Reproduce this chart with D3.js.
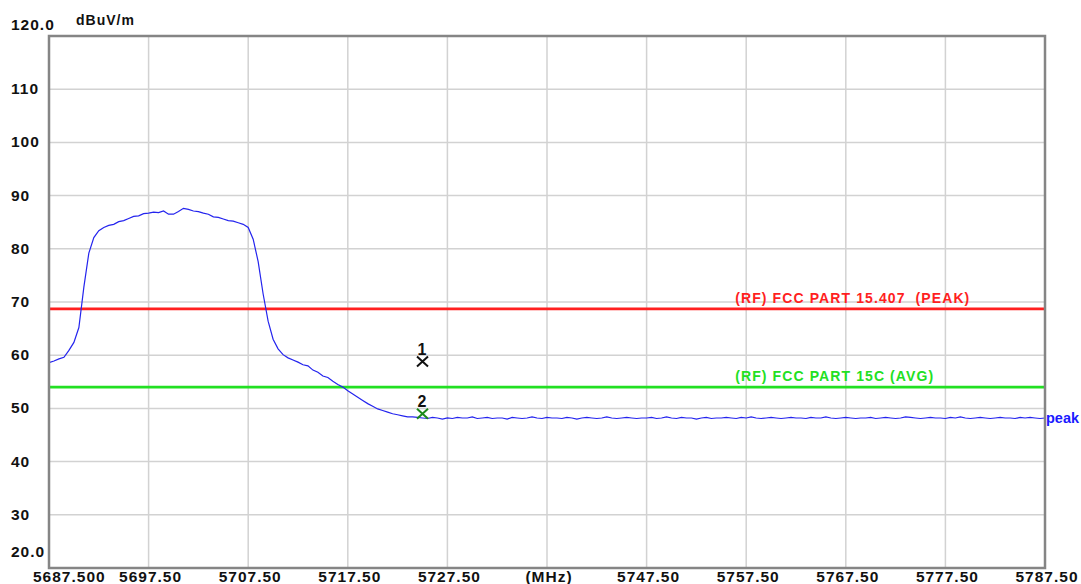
<!DOCTYPE html>
<meta charset="utf-8">
<html>
  <head>
    <title>Band edge plot</title>
    <style>
      body { margin: 0; background: #fff; }
      text.axis { font-family: "Liberation Sans", Arial, sans-serif; font-weight: bold; font-size: 15.5px; fill: #111; letter-spacing: 1px; }
      text.lim { font-family: "Liberation Sans", Arial, sans-serif; font-weight: bold; font-size: 14px; letter-spacing: 1.1px; white-space: pre; }
    </style>
    <script src="https://cdn.jsdelivr.net/npm/d3@7"></script>
  </head>
  <body>
    <div id="chart"></div>
    <script type="text/javascript">
    // sweep: 5687.5 .. 5787.5 MHz, one reading every 0.5 MHz
    var sweepStart = 5687.5;
    var sweepStep = 0.5;
    var peakTrace = [
      58.6,58.9,59.3,59.6,60.9,62.4,65.2,72.8,79.2,82.1,
      83.4,84.0,84.4,84.6,85.1,85.3,85.7,86.1,86.2,86.6,
      86.7,86.9,86.8,87.1,86.5,86.5,87.0,87.6,87.4,87.1,
      87.0,86.7,86.5,86.0,85.9,85.6,85.3,85.2,84.9,84.6,
      84.0,81.8,77.6,71.5,66.4,63.0,61.2,60.1,59.5,59.1,
      58.7,58.2,58.0,57.2,56.8,56.1,55.8,55.1,54.5,54.0,
      53.3,52.7,52.1,51.5,50.9,50.4,49.9,49.6,49.3,49.0,
      48.8,48.6,48.4,48.4,48.3,48.2,
      48.1,48.3,48.2,48.0,48.2,48.1,48.3,48.2,48.2,48.4,
      48.1,48.2,48.3,48.1,48.2,48.2,48.0,48.3,48.2,48.1,
      48.2,48.4,48.2,48.1,48.3,48.2,48.2,48.1,48.3,48.2,
      48.0,48.2,48.3,48.2,48.1,48.2,48.4,48.2,48.1,48.2,
      48.3,48.2,48.1,48.2,48.2,48.3,48.1,48.2,48.4,48.2,
      48.1,48.3,48.2,48.2,48.0,48.2,48.3,48.1,48.2,48.2,
      48.3,48.2,48.1,48.3,48.2,48.4,48.2,48.1,48.2,48.3,
      48.2,48.1,48.2,48.3,48.2,48.2,48.1,48.3,48.2,48.2,
      48.4,48.2,48.1,48.2,48.3,48.2,48.1,48.2,48.2,48.3,
      48.1,48.2,48.3,48.2,48.1,48.2,48.4,48.3,48.2,48.1,
      48.2,48.3,48.2,48.2,48.1,48.3,48.2,48.4,48.2,48.1,
      48.2,48.3,48.2,48.1,48.2,48.3,48.2,48.2,48.1,48.3,
      48.2,48.3,48.2,48.1,48.2
    ];

    var xTicks = [5687.5, 5697.5, 5707.5, 5717.5, 5727.5, 5737.5, 5747.5, 5757.5, 5767.5, 5777.5, 5787.5];
    var xTickLabels = ["5687.500", "5697.50", "5707.50", "5717.50", "5727.50", "(MHz)", "5747.50", "5757.50", "5767.50", "5777.50", "5787.50"];
    var yTicks = [120, 110, 100, 90, 80, 70, 60, 50, 40, 30, 20];
    var yTickLabels = ["120.0", "110", "100", "90", "80", "70", "60", "50", "40", "30", "20.0"];

    var limitNames = ["(RF) FCC PART 15.407  (PEAK)", "(RF) FCC PART 15C (AVG)"];
    var limitLevels = [68.7, 54];
    var limitColors = ["#ff1f1f", "#22e022"];

    var markerNames = ["1", "2"];
    var markerFreqs = [5725, 5725];
    var markerLevels = [58.8, 49.0];
    var markerColors = ["#111", "#1c8a1c"];

    var width = 1081, height = 584;

    var x = d3.scaleLinear().domain([5687.5, 5787.5]).range([49, 1045]);
    var y = d3.scaleLinear().domain([20, 120]).range([568, 36]);

    var svg = d3.select("#chart").append("svg")
      .attr("width", width)
      .attr("height", height);

    // grid
    svg.selectAll(".vgrid")
      .data(xTicks.slice(1, -1))
      .enter().append("line")
      .attr("x1", function(d) { return x(d); })
      .attr("x2", function(d) { return x(d); })
      .attr("y1", y(120)).attr("y2", y(20))
      .style("stroke", "#d2d2d2").style("stroke-width", 1.5);

    svg.selectAll(".hgrid")
      .data(yTicks.slice(1, -1))
      .enter().append("line")
      .attr("x1", x(5687.5)).attr("x2", x(5787.5))
      .attr("y1", function(d) { return y(d); })
      .attr("y2", function(d) { return y(d); })
      .style("stroke", "#d2d2d2").style("stroke-width", 1.5);

    // limit lines
    svg.selectAll(".limit")
      .data(limitLevels)
      .enter().append("line")
      .attr("x1", x(5687.5)).attr("x2", x(5787.5))
      .attr("y1", function(d) { return y(d); })
      .attr("y2", function(d) { return y(d); })
      .style("stroke", function(d, i) { return limitColors[i]; })
      .style("stroke-width", 2.6);

    svg.selectAll(".limLabel")
      .data(limitNames)
      .enter().append("text")
      .attr("class", "lim")
      .attr("x", x(5756.4))
      .attr("y", function(d, i) { return y(limitLevels[i]) - 6; })
      .style("fill", function(d, i) { return limitColors[i]; })
      .text(function(d) { return d; });

    // trace
    var line = d3.line()
      .x(function(d, i) { return x(sweepStart + i * sweepStep); })
      .y(function(d) { return y(d); });

    svg.append("path")
      .datum(peakTrace)
      .attr("d", line)
      .style("fill", "none")
      .style("stroke", "#2424ee")
      .style("stroke-width", 1.2);

    svg.append("text")
      .attr("class", "axis")
      .attr("x", x(5787.5) + 1)
      .attr("y", y(peakTrace[peakTrace.length - 1]) + 5)
      .style("fill", "#1a1aff")
      .style("font-size", "14.5px")
      .style("letter-spacing", "0px")
      .text("peak");

    // markers
    var mk = svg.selectAll(".marker")
      .data(markerNames)
      .enter().append("g")
      .attr("transform", function(d, i) {
        return "translate(" + x(markerFreqs[i]) + "," + y(markerLevels[i]) + ")";
      });

    mk.append("path")
      .attr("d", "M-5.5,-5L5.5,5M-5.5,5L5.5,-5")
      .style("stroke", function(d, i) { return markerColors[i]; })
      .style("stroke-width", 2);

    mk.append("text")
      .attr("class", "axis")
      .attr("text-anchor", "middle")
      .attr("y", -7)
      .style("font-size", "16px")
      .text(function(d) { return d; });

    // frame
    svg.append("rect")
      .attr("x", x(5687.5)).attr("y", y(120))
      .attr("width", x(5787.5) - x(5687.5))
      .attr("height", y(20) - y(120))
      .style("fill", "none")
      .style("stroke", "#858585")
      .style("stroke-width", 2.5);

    // axis labels
    svg.selectAll(".xLabel")
      .data(xTickLabels)
      .enter().append("text")
      .attr("class", "axis")
      .attr("text-anchor", function(d, i) { return i == 0 ? "start" : "middle"; })
      .attr("x", function(d, i) { return i == 0 ? x(xTicks[0]) - 16 : x(xTicks[i]) + 2; })
      .attr("y", 582)
      .text(function(d) { return d; });

    svg.selectAll(".yLabel")
      .data(yTickLabels)
      .enter().append("text")
      .attr("class", "axis")
      .attr("x", 11)
      .attr("y", function(d, i) {
        if (i == 0) return y(yTicks[i]) - 6;
        if (i == yTicks.length - 1) return y(yTicks[i]) - 11;
        return y(yTicks[i]) + 5;
      })
      .text(function(d) { return d; });

    svg.append("text")
      .attr("class", "axis")
      .attr("x", 76)
      .attr("y", 25)
      .style("font-size", "14px")
      .text("dBuV/m");

    </script>
  </body>
</html>
